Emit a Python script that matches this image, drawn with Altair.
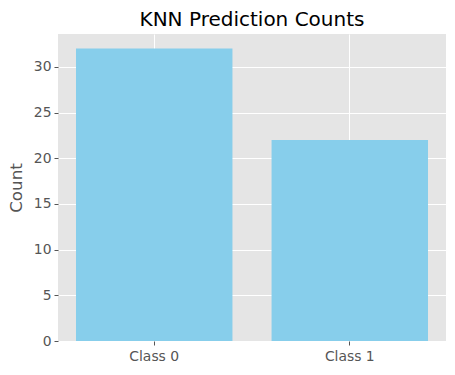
import altair as alt
import pandas as pd

classes = ["Class 0", "Class 1"]
counts = [32, 22]

df = pd.DataFrame({"cls": classes, "count": counts})

chart = alt.Chart(df).mark_bar(color="#87CEEB").encode(
    x=alt.X("cls:N", title=None, sort=classes,
            scale=alt.Scale(paddingInner=0.2, paddingOuter=0.092),
            axis=alt.Axis(labelAngle=0, bandPosition=0.5, grid=True, gridColor="white",
                          gridWidth=1, domain=False, tickColor="#555555", tickSize=4,
                          labelColor="#555555", labelFontSize=13.9, labelPadding=4,
                          labelFont="DejaVu Sans")),
    y=alt.Y("count:Q", title="Count",
            scale=alt.Scale(domain=[0, 33.6], nice=False, zero=True),
            axis=alt.Axis(values=[0, 5, 10, 15, 20, 25, 30], grid=True, gridColor="white",
                          gridWidth=1, domain=False, tickColor="#555555", tickSize=4,
                          labelColor="#555555", labelFontSize=13.9, labelPadding=3,
                          labelFont="DejaVu Sans", titleFont="DejaVu Sans",
                          titleFontSize=16.7, titleColor="#555555", titleFontWeight="normal",
                          titlePadding=8)),
).properties(
    width=388, height=307,
    title=alt.Title("KNN Prediction Counts", fontSize=20, font="DejaVu Sans",
                    fontWeight="normal", color="black", offset=4),
    autosize=alt.AutoSizeParams(type="none"),
    padding={"left": 58, "top": 34, "right": 9, "bottom": 34},
    background="white",
).configure_view(fill="#E5E5E5", stroke=None)

chart.save("out.html", embed_options={"renderer": "svg", "actions": False})
